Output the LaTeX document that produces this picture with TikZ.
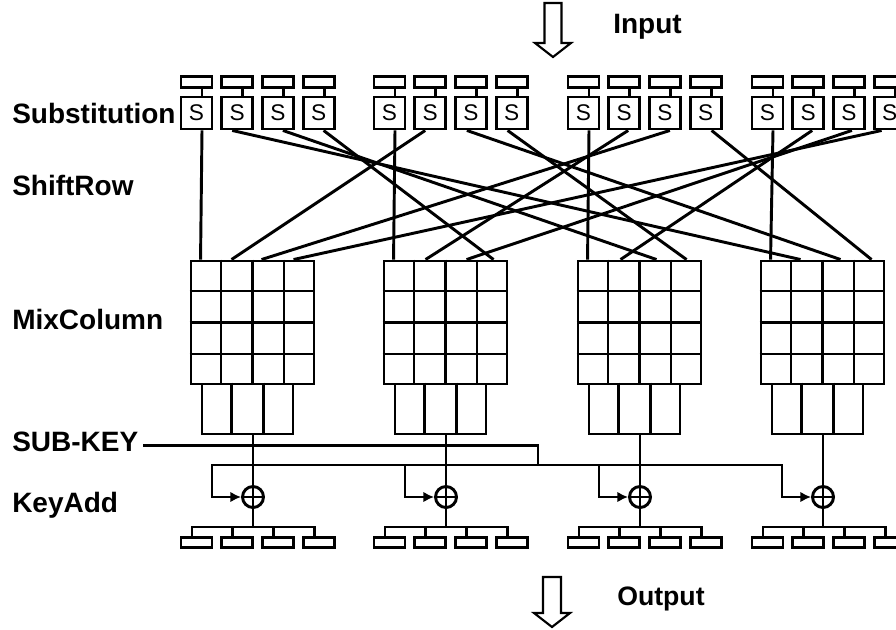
\documentclass[tikz,border=0pt]{standalone}
\usepackage{fontspec}
\setmainfont{Liberation Sans}
\usetikzlibrary{arrows.meta,calc}

\tikzset{
  wire/.style={line width=2.2pt},
  sbox/.style={draw, line width=2.2pt, fill=white, minimum width=23.25pt,
    minimum height=24pt, inner sep=0pt, font=\fontsize{17}{18}\selectfont},
  byterect/.style={draw, line width=2.2pt, minimum width=23.25pt,
    minimum height=7.9pt, inner sep=0pt},
  mixbox/.style={draw, line width=2.2pt, minimum size=92.25pt, inner sep=0pt},
  lowbox/.style={draw, line width=2.2pt, minimum width=68.25pt,
    minimum height=37.5pt, inner sep=0pt},
  xorop/.style={draw, circle, line width=2.2pt, minimum size=15.75pt, inner sep=0pt,
    path picture={\draw[line width=2.2pt]
      (path picture bounding box.north) -- (path picture bounding box.south)
      (path picture bounding box.west) -- (path picture bounding box.east);}},
  steplabel/.style={anchor=base west, inner sep=0pt,
    font=\bfseries\fontsize{21}{24}\selectfont},
  keyarrow/.style={line width=2.2pt, -{Latex[length=8pt,width=8pt]}},
  hollow/.style={line width=1.6pt, line join=miter}
}

\begin{document}
\begin{tikzpicture}[x=0.75pt,y=-0.75pt]
\clip (0,0) rectangle (896,629);
% labels
\node[steplabel] (inp) at (613,33) {Input};
\node[steplabel, font=\bfseries\fontsize{20}{24}\selectfont] (outp) at (617,605) {Output};
\node[steplabel] (sub) at (12,123) {Substitution};
\node[steplabel] (shr) at (12,195) {ShiftRow};
\node[steplabel] (mix) at (12,329) {MixColumn};
\node[steplabel] (skey) at (12,451) {SUB-KEY};
\node[steplabel] (kadd) at (12,512) {KeyAdd};
% hollow arrows
\coordinate (inarr) at (553,3);
\draw[hollow] (inarr) ++(-8.5,0) -- ++(17,0) -- ++(0,40) -- ++(9.5,0)
  -- ++(-18,14) -- ++(-18,-14) -- ++(9.5,0) -- cycle;
\coordinate (outarr) at (552,577);
\draw[hollow] (outarr) ++(-9,0) -- ++(18,0) -- ++(0,36) -- ++(9,0)
  -- ++(-18,14) -- ++(-18,-14) -- ++(9,0) -- cycle;
% bytes and S-boxes
\foreach \g/\L in {0/181,1/374,2/568,3/752} {
  \foreach \r [evaluate=\r as \xr using \L+15.5+40.7*\r] in {0,...,3} {
    \node[byterect] (i\g\r) at (\xr,82) {};
    \node[sbox] (s\g\r) at (\xr,113) {S};
    \draw[wire] ($(i\g\r.south)+(5.5,0)$) -- ($(s\g\r.north)+(5.5,0)$);
    \node[byterect] (o\g\r) at (\xr,542.5) {};
  }
}
% MixColumn and KeyAdd
\foreach \g/\M in {0/191,1/384,2/578,3/761} {
  \node[mixbox] (mc\g) at (\M+61.5,322.5) {};
  \foreach \i in {1,2,3} {
    \draw[wire] ($(mc\g.north west)!\i/4!(mc\g.north east)$) -- ($(mc\g.south west)!\i/4!(mc\g.south east)$);
    \draw[wire] ($(mc\g.north west)!\i/4!(mc\g.south west)$) -- ($(mc\g.north east)!\i/4!(mc\g.south east)$);
  }
  \node[lowbox] (lb\g) at (\M+56.5,409) {};
  \draw[wire] ($(lb\g.north west)!1/3!(lb\g.north east)$) -- ($(lb\g.south west)!1/3!(lb\g.south east)$);
  \draw[wire] ($(lb\g.north west)!2/3!(lb\g.north east)$) -- ($(lb\g.south west)!2/3!(lb\g.south east)$);
  \node[xorop] (ka\g) at (\M+62,497) {};
  \coordinate (ob\g) at (\M+62,527);
  \draw[wire] (ka\g.north |- lb\g.south) -- (ka\g.north);
  \draw[wire] (ka\g.south) -- (ob\g);
}
\foreach \g in {0,...,3} {
  \foreach \r in {0,...,3} {
    \draw[wire] ($(o\g\r.north)+(-4.5,0)$) |- (ob\g);
  }
}
% ShiftRow
\foreach \g in {0,...,3} {
  \draw[wire] ($(s\g0.south)+(5.5,0)$) -- ($(mc\g.north west)+(11,0)$);
}
\draw[wire] ($(s01.south)+(-5,0)$) -- ($(mc3.north west)+(41,0)$);
\draw[wire] ($(s02.south)+(5,0)$) -- ($(mc2.north west)+(80,0)$);
\draw[wire] ($(s03.south)+(5,0)$) -- ($(mc1.north west)+(111,0)$);
\draw[wire] ($(s11.south)+(-5,0)$) -- ($(mc0.north west)+(42,0)$);
\draw[wire] ($(s12.south)+(-4,0)$) -- ($(mc3.north west)+(81,0)$);
\draw[wire] ($(s13.south)+(-4,0)$) -- ($(mc2.north west)+(110,0)$);
\draw[wire] ($(s21.south)+(4,0)$) -- ($(mc1.north west)+(43,0)$);
\draw[wire] ($(s22.south)+(5,0)$) -- ($(mc0.north west)+(72,0)$);
\draw[wire] ($(s23.south)+(6,0)$) -- ($(mc3.north west)+(112,0)$);
\draw[wire] ($(s31.south)+(4,0)$) -- ($(mc2.north west)+(44,0)$);
\draw[wire] ($(s32.south)+(3,0)$) -- ($(mc1.north west)+(84,0)$);
\draw[wire] ($(s33.south)+(-8,0)$) -- ($(mc0.north west)+(104,0)$);
% sub-key bus
\coordinate (br0) at (212,465);
\coordinate (br1) at (405,465);
\coordinate (br2) at (599,465);
\coordinate (br3) at (782,465);
\coordinate (kj) at (538,465);
\draw[wire] ([xshift=3.5pt,yshift=-3pt]skey.east) -| (kj);
\draw[keyarrow] (br1) -- (br0) |- (ka0.west);
\draw[keyarrow] (br2) -- (br3) |- (ka3.west);
\draw[wire] (br1) -- (br2);
\draw[keyarrow] (br1) |- (ka1.west);
\draw[keyarrow] (br2) |- (ka2.west);
\end{tikzpicture}
\end{document}
